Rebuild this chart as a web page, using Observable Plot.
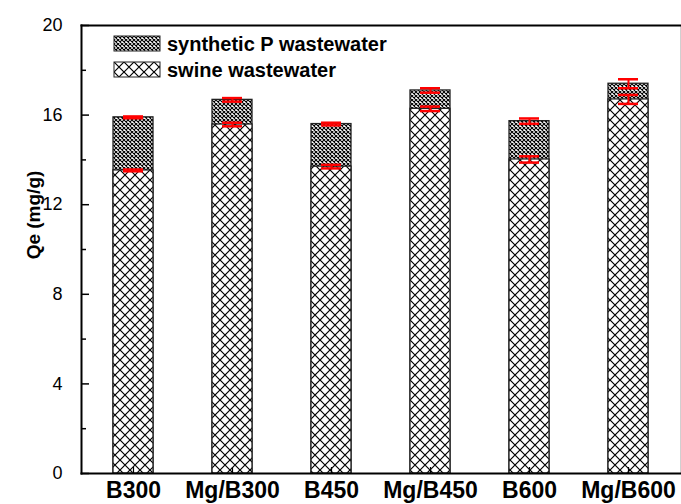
<!DOCTYPE html>
<html><head><meta charset="utf-8">
<script src="https://cdn.jsdelivr.net/npm/d3@7"></script>
<script src="https://cdn.jsdelivr.net/npm/@observablehq/plot@0.6"></script>
<style>body{margin:0;background:#fff} svg{display:block}</style>
</head><body><div id="chart"></div>
<script>
const categories = ["B300","Mg/B300","B450","Mg/B450","B600","Mg/B600"];
const syntheticP = [15.9,16.68,15.6,17.1,15.73,17.4];
const syntheticErr = [0.04,0.08,0.06,0.1,0.12,0.2];
const swine = [13.53,15.58,13.7,16.28,14.02,16.7];
const swineErr = [0.04,0.08,0.08,0.1,0.14,0.2];
const yTicks = [0,4,8,12,16,20];
const yMinorTicks = [2,6,10,14,18];
const seriesNames = ["synthetic P wastewater","swine wastewater"];
const yLabel = "Qe (mg/g)";

const data = categories.map((c,i)=>({cat:c, synth:syntheticP[i], se:syntheticErr[i], swine:swine[i], we:swineErr[i]}));
const font = "'Liberation Sans', Arial, sans-serif";
const W = 681, H = 504, mL = 81, mR = 1, mT = 25, mB = 31;
const innerW = W - mL - mR, innerH = H - mT - mB;

const chart = Plot.plot({
  width: W, height: H,
  marginLeft: mL, marginRight: mR, marginTop: mT, marginBottom: mB,
  style: {fontFamily: font, background: "#fff", color: "#000", overflow: "visible"},
  x: {type: "band", domain: categories, paddingInner: 0.6, paddingOuter: 0.3, label: null},
  y: {domain: [0,20], label: null},
  marks: [
    Plot.barY(data, {x:"cat", y:"synth", fill:"url(#patDense)", stroke:"#222", strokeWidth:1.3}),
    Plot.barY(data, {x:"cat", y:"swine", fill:"url(#patSparse)", stroke:"#222", strokeWidth:1.3}),
    Plot.ruleX(data, {x:"cat", y1:d=>d.synth-d.se, y2:d=>d.synth+d.se, stroke:"red", strokeWidth:2}),
    Plot.tickY(data, {x:"cat", y:d=>d.synth-d.se, stroke:"red", strokeWidth:2.5, insetLeft:10, insetRight:10}),
    Plot.tickY(data, {x:"cat", y:d=>d.synth+d.se, stroke:"red", strokeWidth:2.5, insetLeft:10, insetRight:10}),
    Plot.ruleX(data, {x:"cat", y1:d=>d.swine-d.we, y2:d=>d.swine+d.we, stroke:"red", strokeWidth:2}),
    Plot.tickY(data, {x:"cat", y:d=>d.swine-d.we, stroke:"red", strokeWidth:2.5, insetLeft:10, insetRight:10}),
    Plot.tickY(data, {x:"cat", y:d=>d.swine+d.we, stroke:"red", strokeWidth:2.5, insetLeft:10, insetRight:10}),
    Plot.axisY({ticks: yTicks, tickSize: 0, tickPadding: 19, fontSize: 18, label: null}),
    Plot.tickY(yTicks, {y: d=>d, stroke:"#000", strokeWidth: 1.5, insetRight: innerW - 8}),
    Plot.tickY(yMinorTicks, {y: d=>d, stroke:"#000", strokeWidth: 1.5, insetRight: innerW - 5}),
    Plot.tickX(categories, {x: d=>d, stroke:"#000", strokeWidth: 1.2, insetTop: innerH - 6}),
    Plot.axisX({tickSize: 0, tickPadding: 8, fontSize: 23, fontWeight: "bold", label: null}),
    Plot.frame({anchor: "right", stroke: "#d0d0d0", strokeWidth: 1}),
    Plot.frame({anchor: "top", stroke: "#000", strokeWidth: 2}),
    Plot.frame({anchor: "left", stroke: "#000", strokeWidth: 2}),
    Plot.frame({anchor: "bottom", stroke: "#000", strokeWidth: 2})
  ]
});

const svg = d3.select(chart);
const defs = svg.insert("defs", ":first-child");
const dense = defs.append("pattern").attr("id","patDense").attr("patternUnits","userSpaceOnUse").attr("width",4).attr("height",4);
dense.append("rect").attr("width",4).attr("height",4).attr("fill","#fff");
dense.append("path").attr("d","M0,0L4,4M4,0L0,4").attr("stroke","#000").attr("stroke-width",1.1);
const sparse = defs.append("pattern").attr("id","patSparse").attr("patternUnits","userSpaceOnUse").attr("width",10).attr("height",10);
sparse.append("rect").attr("width",10).attr("height",10).attr("fill","#fff");
sparse.append("path").attr("d","M0,0L10,10M10,0L0,10").attr("stroke","#000").attr("stroke-width",1.2);

// y-axis title
svg.append("text").attr("transform","translate(35,215) rotate(-90)").attr("text-anchor","middle")
  .attr("dominant-baseline","middle").attr("font-family",font).attr("font-weight","bold").attr("font-size",19).text(yLabel);

// legend
const legendFills = ["url(#patDense)","url(#patSparse)"];
seriesNames.forEach((name,i)=>{
  const g = svg.append("g").attr("transform",`translate(114,${36+i*26})`);
  g.append("rect").attr("width",46).attr("height",15).attr("fill",legendFills[i]).attr("stroke","#222").attr("stroke-width",1);
  g.append("text").attr("x",53).attr("y",14.5).attr("text-anchor","start").attr("font-family",font).attr("font-weight","bold").attr("font-size",20).text(name);
});

document.getElementById("chart").appendChild(chart);
</script>
</body></html>
